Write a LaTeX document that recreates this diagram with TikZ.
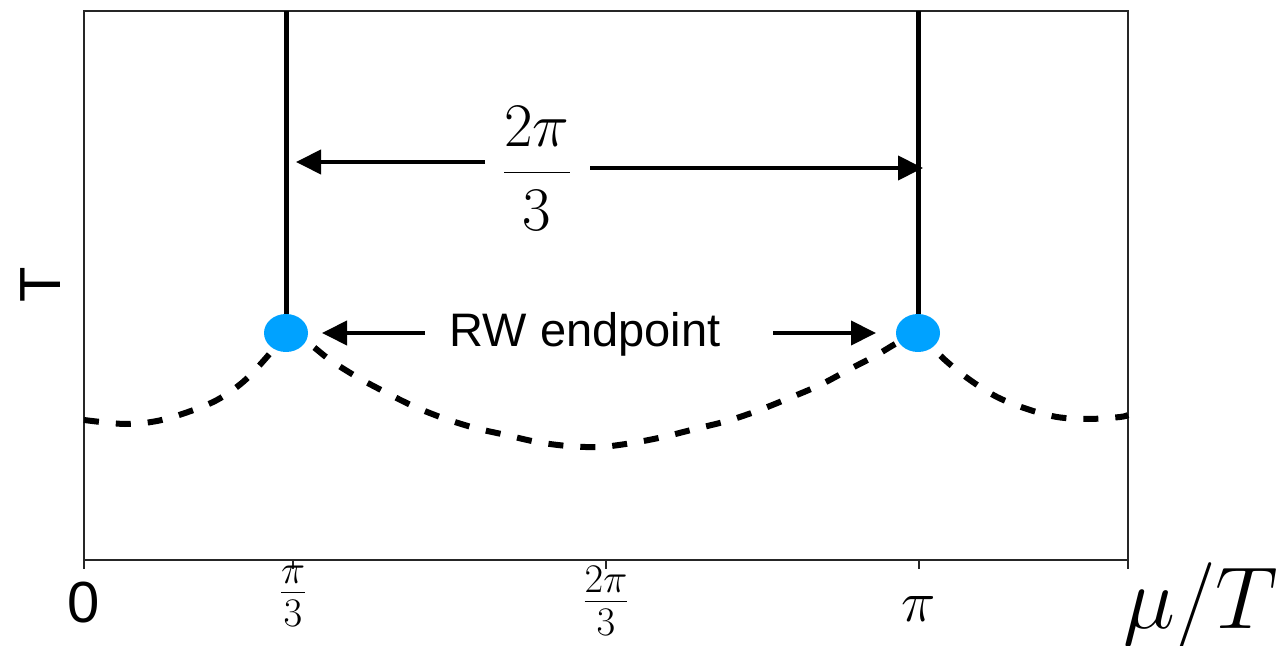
\RequirePackage{fix-cm}
\documentclass[tikz,border=0pt]{standalone}
\usepackage{fontspec}
\setsansfont{Liberation Sans}
\usetikzlibrary{arrows.meta,shapes.geometric}
\definecolor{dotblue}{RGB}{0,162,255}
\begin{document}
\begin{tikzpicture}[x=0.5pt,y=-0.5pt,
  frame/.style={line width=0.8pt,draw=black!85},
  vline/.style={line width=2.5pt},
  arr/.style={line width=2pt,-{Triangle[length=12.5pt,width=12pt]}},
  dcurve/.style={line width=3pt,dash pattern=on 7.5pt off 8.5pt,smooth,tension=0.55},
  dot/.style={ellipse,fill=dotblue,minimum width=22pt,minimum height=19pt,inner sep=0pt},
  ticklab/.style={inner sep=0pt,font=\fontsize{29}{35}\selectfont}]

\useasboundingbox (0,0) rectangle (1279,646);

% frame and ticks
\draw[frame] (84,11) rectangle (1128,560);
\foreach \x in {84,293,606,919,1128} \draw[frame] (\x,560) -- (\x,569);

% dashed curves
\draw[dcurve] plot coordinates {(84,420) (125,424) (157,421) (188,412) (217,400) (243,382) (266,358) (286,333)};
\draw[dcurve] plot coordinates {(286,333) (308,343) (330,360) (357,377) (383,391) (413,406) (443,418) (475,428) (506,435) (537,442) (568,446) (600,447) (632,443) (663,437) (695,429) (727,421) (757,411) (787,399) (820,385) (850,369) (875,356) (897,343) (918,333)};
\draw[dcurve] plot coordinates {(918,333) (945,360) (970,380) (997,397) (1027,409) (1057,417) (1088,419) (1120,417) (1128,415)};

% vertical lines
\coordinate (c1) at (286,333);
\coordinate (c2) at (918,333);
\coordinate (top1) at (286,11);
\coordinate (top2) at (918,11);
\draw[vline] (top1) -- (c1);
\draw[vline] (top2) -- (c2);

% RW endpoints
\node[dot] (d1) at (c1) {};
\node[dot] (d2) at (c2) {};

% top arrows and label
\node[inner sep=0pt,anchor=base,font=\fontsize{31}{37}\selectfont] (frac) at (537,188) {$\displaystyle\frac{2\pi}{3}$};
\coordinate (a1s) at (485,162);
\coordinate (a1e) at (296,162);
\coordinate (a2s) at (590,168);
\coordinate (a2e) at (923,168);
\draw[arr] (a1s) -- (a1e);
\draw[arr] (a2s) -- (a2e);

% RW endpoint label and arrows
\node[inner sep=0pt,anchor=base,font=\sffamily\fontsize{23.5}{28}\selectfont] (rw) at (585,347) {RW endpoint};
\coordinate (b1s) at (425,333);
\coordinate (b1e) at (322,333);
\coordinate (b2s) at (773,333);
\coordinate (b2e) at (876,333);
\draw[arr] (b1s) -- (b1e);
\draw[arr] (b2s) -- (b2e);

% tick labels
\node[ticklab,anchor=base,font=\sffamily\fontsize{29}{35}\selectfont] (l0) at (84,622) {0};
\node[ticklab,anchor=north] (l1) at (293,566) {$\frac{\pi}{3}$};
\node[ticklab,anchor=north] (l2) at (606,566) {$\frac{2\pi}{3}$};
\node[ticklab,anchor=base] (l3) at (919,621) {$\pi$};

% axis labels
\node[inner sep=0pt,anchor=base west,font=\fontsize{44}{52}\selectfont] (xlab) at (1123,628) {$\mu/T$};
\node[inner sep=0pt,rotate=90,font=\sffamily\fontsize{29}{35}\selectfont] (ylab) at (41,285) {T};
\end{tikzpicture}
\end{document}
